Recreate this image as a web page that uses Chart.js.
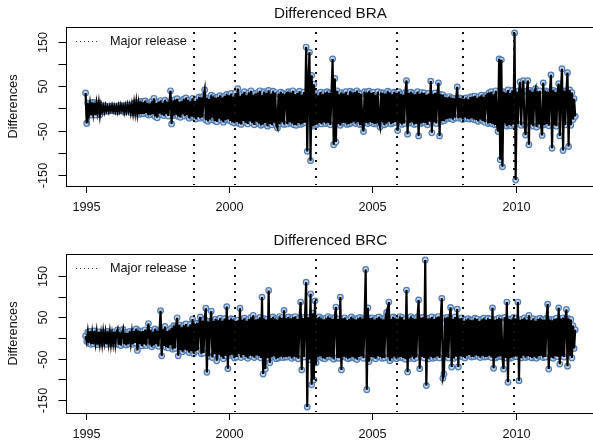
<!DOCTYPE html>
<html>
<head>
<meta charset="utf-8">
<script src="https://cdn.jsdelivr.net/npm/chart.js@4.4.1/dist/chart.umd.min.js"></script>
<style>
  html, body { margin: 0; padding: 0; background: #fff; }
  #wrap { position: relative; width: 593px; height: 440px; overflow: hidden; }
  canvas { position: absolute; left: 0; }
</style>
</head>
<body>
<div id="wrap">
  <canvas id="chartBRA" width="600" height="220" style="top:0px"></canvas>
  <canvas id="chartBRC" width="600" height="220" style="top:227px"></canvas>
</div>
<script>
// series start in 1995, 26 observations per year (one row per year below)
var startYear = 1995;
var perYear = 26;

var braValues = [
  35,-34,12,-14,9,-15,14,-10,13,-15,11,-8,12,-14,7,-6,5,-7,6,-5,4,-6,5,-4,6,-5,            // 1995
  5,-6,4,-7,6,-5,7,-4,5,-8,6,-6,8,-5,7,-9,8,-10,12,-9,14,-11,10,-13,16,-12,                // 1996
  14,-12,17,-10,13,-15,11,-14,16,-12,23,-18,12,-21,15,-11,18,-14,13,-16,19,-12,15,-17,12,40, // 1997
  -35,18,-16,20,-14,22,-18,15,-20,17,-13,21,-17,24,-15,19,-22,16,-18,23,-20,17,-24,21,-19,26, // 1998
  -22,25,-20,28,42,-26,24,-29,22,-25,30,-21,27,-28,24,-30,26,-23,29,-27,25,-31,28,-26,32,-24, // 1999
  30,-28,34,-31,27,-33,35,-30,45,-34,29,-36,33,-28,38,-32,30,-35,36,-29,40,-33,31,-37,34,-30, // 2000
  36,-34,40,-38,31,-36,38,-33,35,-40,41,-35,33,-37,39,-32,36,-38,-44,33,-35,37,-31,34,-36,30, // 2001
  33,-35,38,-31,36,-34,40,-37,32,-38,35,-33,39,-36,31,-34,37,-32,139,-97,60,127,-118,75,-40,55, // 2002
  -38,34,-36,30,-33,37,-35,32,-31,36,-34,38,-32,35,-37,33,112,-82,68,-76,40,-35,32,-38,36,-33, // 2003
  34,-32,38,-36,31,-35,39,-33,36,-30,37,-34,40,-31,35,-37,33,-36,-52,38,-32,36,-34,39,-31,35, // 2004
  -33,37,-35,31,-34,38,-32,-42,36,-31,35,-37,33,-34,39,-30,36,-35,32,-33,37,-31,35,-50,38,-34, // 2005
  33,-36,31,-34,36,63,-58,35,-33,37,-31,34,-36,32,-35,38,-62,33,-34,36,-32,35,-33,31,-37,34, // 2006
  -30,62,-55,33,-31,35,-34,30,58,-62,32,-29,31,-28,26,-24,25,-23,27,-22,24,-25,23,-21,22,49, // 2007
  -22,24,-21,23,-25,22,-20,24,-23,21,-24,26,-22,27,-25,28,-26,24,-29,27,-25,30,-28,26,-31,29, // 2008
  31,-34,36,-33,38,-35,32,-37,40,-36,-52,112,-116,110,-132,38,-34,36,-40,42,-37,35,-39,41,-36,171, // 2009
  -162,38,-35,40,60,-38,36,63,-37,-60,39,63,-82,41,-36,38,-40,37,45,-42,39,-36,40,-38,-61,58, // 2010
  -37,40,-35,38,-39,36,76,-90,41,-38,37,-40,39,56,-62,38,90,-95,40,-37,39,81,-86,42,-38,36, // 2011
  -25,22,-18                                                                                // 2012
];

var brcValues = [
  5,-8,14,-12,16,-15,11,-14,17,-10,13,-16,15,-12,10,-13,14,-9,12,-15,16,-11,13,-14,9,-12,   // 1995
  15,-13,12,20,-16,14,-18,11,21,-15,13,-17,12,-14,16,-11,13,-15,17,-12,22,-30,18,-14,16,-19, // 1996
  17,-15,20,-18,14,35,-16,19,-21,15,-17,22,-14,18,-20,16,66,-43,21,-19,28,-22,17,-24,20,-18, // 1997
  24,-27,30,-25,28,49,-43,32,-29,26,-33,31,-28,34,-30,27,-35,33,-31,46,-38,34,-32,36,-30,35, // 1998
  51,-38,42,-36,45,72,-83,40,-44,38,65,-47,41,-39,46,-55,43,-40,48,-45,42,-50,47,-43,76,-74, // 1999
  44,-42,47,-40,45,-48,41,-46,43,-39,72,-47,44,-41,48,-45,42,-49,46,-43,50,-44,55,-47,45,-42, // 2000
  46,-44,50,-48,99,-87,47,-75,45,-49,115,-60,48,-46,51,-44,47,-50,45,-48,52,-45,49,-47,67,-46, // 2001
  48,-46,51,-44,47,-49,50,-45,52,-47,46,-50,49,87,-77,48,-46,51,135,-167,50,-52,107,-113,60,-101, // 2002
  90,-60,48,-46,51,-44,47,-49,45,-50,48,-46,52,-45,49,-47,46,-51,50,75,-48,46,-49,99,-77,47, // 2003
  -45,49,-47,44,-50,46,-48,51,-45,47,-49,45,-52,48,-46,50,-44,47,-49,45,166,-125,73,-57,48,-46, // 2004
  49,-47,45,-50,48,-44,51,-46,47,-49,45,-48,50,62,-47,87,-55,46,-49,51,-45,48,-50,46,-47,52, // 2005
  -46,50,-48,45,-51,116,-82,47,-49,52,-45,48,-50,46,-47,51,92,-74,49,-46,50,-48,189,-115,47,-50, // 2006
  48,-45,51,-49,46,-47,50,-44,52,-48,45,96,-97,-87,49,-46,50,-48,47,74,-70,46,-49,51,-45,70, // 2007
  -70,47,-44,49,-46,42,-48,45,-43,47,-41,44,-46,43,-45,48,-42,46,-44,41,-47,45,-43,48,-46,44, // 2008
  -45,48,-43,46,-47,73,-73,44,-48,46,-45,49,-44,47,-46,-75,50,-48,87,-107,46,-49,45,-47,50,-44, // 2009
  47,-45,87,-103,44,-48,46,-43,49,-47,45,-44,55,-46,43,-48,47,-45,42,-49,46,-44,48,-43,45,-47, // 2010
  44,-46,48,82,-75,45,-47,43,-49,46,-44,48,-45,73,-63,47,-44,49,-46,45,69,-68,47,-43,45,-48, // 2011
  30,-25,20                                                                                 // 2012
];

// major releases (decimal years)
var releases = [1998.77, 2000.2, 2003.05, 2005.85, 2008.16, 2009.93];

var xTicks = [1995, 2000, 2005, 2010];
var yTicks = [-150, -100, -50, 0, 50, 100, 150];
var yTickLabels = ['-150', '', '-50', '', '50', '', '150'];

var FONT = '"Liberation Sans", Arial, Helvetica, sans-serif';

function toPoints(vals) {
  return vals.map(function(v, i) { return { x: startYear + i / perYear, y: v }; });
}

// R style: 4% extension of the data range
function pad(lo, hi) {
  var d = (hi - lo) * 0.04;
  return [lo - d, hi + d];
}

// frame, axes, release lines, legend, titles drawn on top of the library's scales
var rAxes = {
  id: 'rAxes',
  afterDatasetsDraw: function(chart, args, opts) {
    var ctx = chart.ctx, a = chart.chartArea;
    var xs = chart.scales.x, ys = chart.scales.y;
    ctx.save();

    // release lines
    ctx.strokeStyle = '#111';
    ctx.lineWidth = 2;
    ctx.setLineDash([2, 6]);
    releases.forEach(function(r) {
      var px = Math.round(xs.getPixelForValue(r));
      ctx.beginPath();
      ctx.moveTo(px, a.top + 5);
      ctx.lineTo(px, a.bottom - 1);
      ctx.stroke();
    });
    ctx.setLineDash([]);

    // box
    ctx.strokeStyle = '#000';
    ctx.lineWidth = 1;
    ctx.strokeRect(Math.round(a.left) + 0.5, Math.round(a.top) + 0.5, a.right - a.left, a.bottom - a.top);

    ctx.fillStyle = '#111';
    ctx.font = '12.7px ' + FONT;

    // x axis
    ctx.textAlign = 'center';
    ctx.textBaseline = 'middle';
    xTicks.forEach(function(t) {
      var px = Math.round(xs.getPixelForValue(t)) + 0.5;
      ctx.beginPath();
      ctx.moveTo(px, a.bottom);
      ctx.lineTo(px, a.bottom + 7);
      ctx.stroke();
      ctx.fillText(String(t), px, a.bottom + 21);
    });

    // y axis
    yTicks.forEach(function(t, i) {
      var py = Math.round(ys.getPixelForValue(t)) + 0.5;
      ctx.beginPath();
      ctx.moveTo(a.left, py);
      ctx.lineTo(a.left - 7.5, py);
      ctx.stroke();
      if (yTickLabels[i]) {
        ctx.save();
        ctx.translate(43.5, py);
        ctx.rotate(-Math.PI / 2);
        ctx.fillText(yTickLabels[i], 0, 0);
        ctx.restore();
      }
    });

    // y title
    ctx.save();
    ctx.translate(13.5, (a.top + a.bottom) / 2);
    ctx.rotate(-Math.PI / 2);
    ctx.fillText('Differences', 0, 0);
    ctx.restore();

    // main title
    ctx.font = '15.2px ' + FONT;
    ctx.fillText(opts.title, (a.left + a.right) / 2, 14);

    // legend
    ctx.strokeStyle = '#333';
    ctx.lineWidth = 1;
    ctx.setLineDash([1, 3]);
    ctx.beginPath();
    ctx.moveTo(76, a.top + 14.5);
    ctx.lineTo(100, a.top + 14.5);
    ctx.stroke();
    ctx.setLineDash([]);
    ctx.font = '12.7px ' + FONT;
    ctx.textAlign = 'left';
    ctx.fillText('Major release', 110, a.top + 14);

    ctx.restore();
  }
};

function makeChart(id, vals, title) {
  var pts = toPoints(vals);
  var xr = pad(startYear, pts[pts.length - 1].x);
  var yr = pad(Math.min.apply(null, vals), Math.max.apply(null, vals));
  return new Chart(document.getElementById(id).getContext('2d'), {
    type: 'line',
    data: {
      datasets: [{
        // circles underneath
        data: pts,
        showLine: false,
        pointRadius: 2.8,
        pointBorderWidth: 1.2,
        pointBorderColor: '#4f7cb5',
        pointBackgroundColor: '#c3d1e4',
        order: 2
      }, {
        // black line on top
        data: pts,
        borderColor: '#000',
        borderWidth: 2.2,
        pointRadius: 0,
        tension: 0,
        order: 1
      }]
    },
    options: {
      responsive: false,
      animation: false,
      devicePixelRatio: 1,
      parsing: false,
      layout: { padding: { left: 66, right: 4, top: 27, bottom: 34 } },
      scales: {
        x: { type: 'linear', min: xr[0], max: xr[1], display: false },
        y: { type: 'linear', min: yr[0], max: yr[1], display: false }
      },
      plugins: {
        legend: { display: false },
        tooltip: { enabled: false },
        rAxes: { title: title }
      }
    },
    plugins: [rAxes]
  });
}

makeChart('chartBRA', braValues, 'Differenced BRA');
makeChart('chartBRC', brcValues, 'Differenced BRC');
</script>
</body>
</html>
